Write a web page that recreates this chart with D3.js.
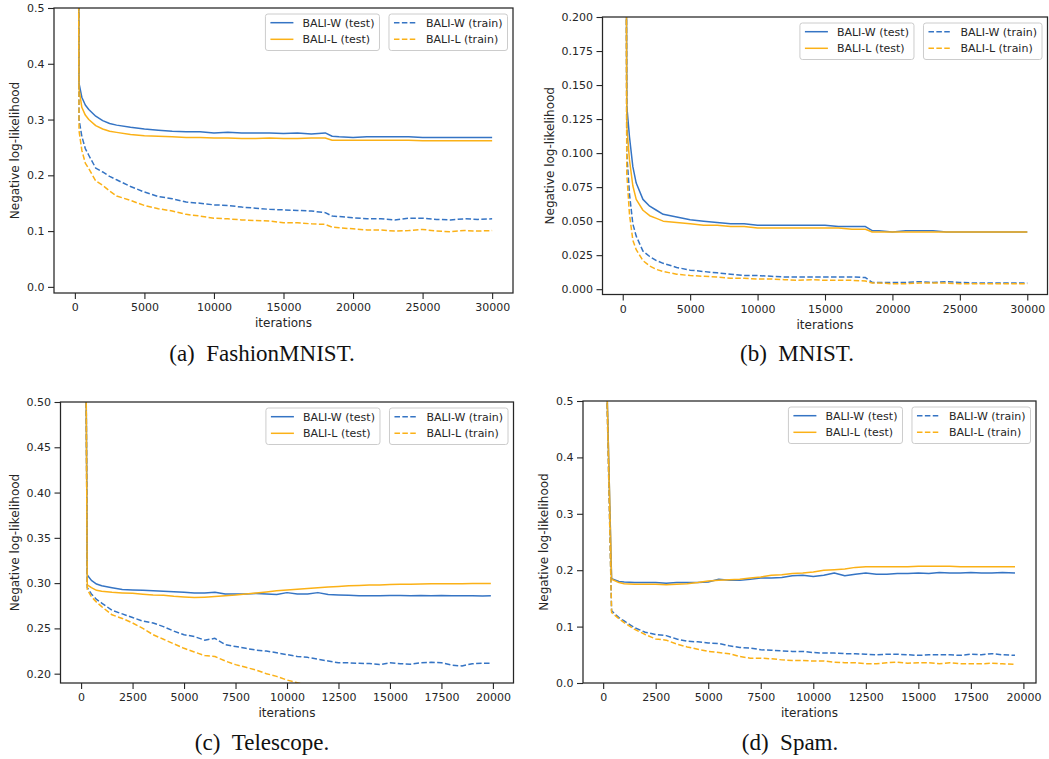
<!DOCTYPE html>
<html>
<head>
<meta charset="utf-8">
<script src="https://cdn.jsdelivr.net/npm/d3@7"></script>
<style>
  body { margin: 0; background: #fff; }
  svg { display: block; }
</style>
</head>
<body>
<div id="chart"></div>
<script>
// --- data ---
const seriesNames = ["BALI-W (test)", "BALI-L (test)", "BALI-W (train)", "BALI-L (train)"];

// (a) FashionMNIST
const fashionIters = [200, 300, 500, 750, 1000, 1500, 2000, 2500, 3000,
  4000, 5000, 6000, 7000, 8000, 9000, 10000, 11000, 12000, 13000, 14000, 15000, 16000, 17000, 18000,
  18500, 19000,
  20000, 21000, 22000, 23000, 24000, 25000, 26000, 27000, 28000, 29000, 30000];
const fashionWTest = [1.20, 0.365, 0.340, 0.326, 0.318, 0.306, 0.298, 0.293, 0.290,
  0.286, 0.283, 0.281, 0.279, 0.278, 0.278, 0.276, 0.277, 0.276, 0.276, 0.276, 0.275, 0.276, 0.274, 0.276,
  0.270, 0.269,
  0.268, 0.269, 0.269, 0.269, 0.269, 0.268, 0.268, 0.268, 0.268, 0.268, 0.268];
const fashionLTest = [1.20, 0.355, 0.322, 0.308, 0.300, 0.289, 0.283, 0.279, 0.277,
  0.273, 0.271, 0.270, 0.269, 0.268, 0.268, 0.267, 0.267, 0.266, 0.266, 0.267, 0.266, 0.266, 0.267, 0.267,
  0.263, 0.263,
  0.263, 0.263, 0.263, 0.263, 0.263, 0.262, 0.262, 0.262, 0.262, 0.262, 0.262];
const fashionWTrain = [1.20, 0.300, 0.270, 0.248, 0.236, 0.213, 0.206, 0.198, 0.192,
  0.180, 0.170, 0.162, 0.158, 0.152, 0.150, 0.147, 0.146, 0.143, 0.141, 0.139, 0.138, 0.137, 0.136, 0.133,
  0.127, 0.126,
  0.124, 0.122, 0.122, 0.120, 0.123, 0.123, 0.121, 0.120, 0.122, 0.121, 0.122];
const fashionLTrain = [1.20, 0.280, 0.245, 0.222, 0.212, 0.190, 0.182, 0.172, 0.163,
  0.155, 0.146, 0.140, 0.136, 0.130, 0.127, 0.123, 0.122, 0.120, 0.119, 0.118, 0.115, 0.115, 0.113, 0.112,
  0.107, 0.106,
  0.104, 0.102, 0.102, 0.100, 0.101, 0.103, 0.100, 0.099, 0.101, 0.100, 0.101];

// (b) MNIST
const mnistIters = [200, 300, 500, 750, 1000, 1500, 2000, 2500, 3000,
  4000, 5000, 6000, 7000, 8000, 9000, 10000, 11000, 12000, 13000, 14000, 15000, 16000, 17000, 18000,
  18500, 19000,
  20000, 21000, 22000, 23000, 24000, 25000, 26000, 27000, 28000, 29000, 30000];
const mnistWTest = [0.50, 0.135, 0.112, 0.090, 0.078, 0.066, 0.061, 0.058, 0.055,
  0.053, 0.051, 0.050, 0.049, 0.048, 0.048, 0.047, 0.047, 0.047, 0.047, 0.047, 0.047, 0.046, 0.046, 0.046,
  0.043, 0.043,
  0.042, 0.043, 0.043, 0.043, 0.042, 0.042, 0.042, 0.042, 0.042, 0.042, 0.042];
const mnistLTest = [0.50, 0.120, 0.095, 0.076, 0.066, 0.058, 0.054, 0.052, 0.050,
  0.049, 0.048, 0.047, 0.047, 0.046, 0.046, 0.045, 0.045, 0.045, 0.045, 0.045, 0.045, 0.045, 0.044, 0.044,
  0.042, 0.042,
  0.042, 0.042, 0.042, 0.042, 0.042, 0.042, 0.042, 0.042, 0.042, 0.042, 0.042];
const mnistWTrain = [0.50, 0.100, 0.070, 0.048, 0.039, 0.028, 0.024, 0.021, 0.019,
  0.016, 0.014, 0.013, 0.012, 0.011, 0.010, 0.010, 0.0095, 0.009, 0.009, 0.009, 0.009, 0.009, 0.009, 0.0085,
  0.005, 0.005,
  0.005, 0.005, 0.0055, 0.005, 0.0055, 0.005, 0.0045, 0.0045, 0.0045, 0.0045, 0.0045];
const mnistLTrain = [0.50, 0.085, 0.055, 0.036, 0.029, 0.021, 0.017, 0.0145, 0.013,
  0.011, 0.010, 0.0095, 0.009, 0.008, 0.008, 0.0075, 0.0075, 0.007, 0.0065, 0.007, 0.0065, 0.0065, 0.0065, 0.006,
  0.0045, 0.0045,
  0.004, 0.004, 0.0045, 0.0045, 0.0045, 0.004, 0.004, 0.004, 0.004, 0.004, 0.004];

// (c) Telescope
const telescopeIters = [200, 300, 500, 750, 1000,
  1500, 2000, 2500, 3000, 3500, 4000, 4500, 5000, 5500, 6000, 6500, 7000, 7500, 8000, 8500, 9000, 9500, 10000,
  10500, 11000, 11500, 12000, 12500, 13000, 13500, 14000, 14500, 15000, 15500, 16000, 16500, 17000, 17500, 18000,
  18500, 19000, 19500, 19900];
const telescopeWTest = [0.70, 0.309, 0.303, 0.299, 0.297,
  0.295, 0.293, 0.2925, 0.292, 0.2915, 0.291, 0.2905, 0.290, 0.289, 0.289, 0.290, 0.288, 0.288, 0.288, 0.2885, 0.288, 0.2875, 0.2895,
  0.288, 0.288, 0.2895, 0.2875, 0.287, 0.2865, 0.286, 0.286, 0.286, 0.2862, 0.2862, 0.286, 0.2862, 0.286, 0.2862, 0.286,
  0.286, 0.286, 0.2858, 0.286];
const telescopeLTest = [0.70, 0.298, 0.295, 0.292, 0.291,
  0.2898, 0.2892, 0.2888, 0.2878, 0.287, 0.2865, 0.2855, 0.2848, 0.284, 0.2845, 0.2852, 0.286, 0.2868, 0.288, 0.289, 0.2902, 0.2915, 0.2925,
  0.2932, 0.294, 0.295, 0.2958, 0.2963, 0.297, 0.2975, 0.2978, 0.298, 0.2984, 0.2987, 0.2988, 0.299, 0.2992, 0.2992, 0.2993,
  0.2994, 0.2995, 0.2995, 0.2995];
const telescopeWTrain = [0.70, 0.295, 0.288, 0.282, 0.278,
  0.270, 0.266, 0.262, 0.258, 0.256, 0.252, 0.247, 0.243, 0.241, 0.237, 0.239, 0.232, 0.230, 0.228, 0.226, 0.225, 0.223, 0.221,
  0.219, 0.218, 0.216, 0.214, 0.212, 0.212, 0.2115, 0.2112, 0.210, 0.212, 0.211, 0.2105, 0.212, 0.2125, 0.212, 0.2095,
  0.2085, 0.211, 0.2115, 0.2115];
const telescopeLTrain = [0.70, 0.293, 0.285, 0.279, 0.274,
  0.265, 0.261, 0.256, 0.250, 0.243, 0.238, 0.233, 0.228, 0.224, 0.220, 0.219, 0.214, 0.210, 0.207, 0.204, 0.200, 0.197, 0.193,
  0.190, 0.187, 0.185, 0.183, 0.181, 0.179, 0.177, 0.176, 0.174, 0.173, 0.172, 0.171, 0.170, 0.169, 0.168, 0.167,
  0.166, 0.166, 0.165, 0.165];

// (d) Spam
const spamIters = [100, 400, 750,
  1000, 1500, 2000, 2500, 3000, 3500, 4000, 4500, 5000, 5500,
  6000, 6500, 7000, 7500, 8000, 8500, 9000, 9500, 10000, 10500,
  11000, 11500, 12000, 12500, 13000, 13500, 14000, 14500, 15000, 15500,
  16000, 16500, 17000, 17500, 18000, 18500, 19000, 19600];
const spamWTest = [0.65, 0.185, 0.180,
  0.179, 0.178, 0.178, 0.178, 0.177, 0.178, 0.178, 0.178, 0.179, 0.184,
  0.182, 0.182, 0.184, 0.186, 0.186, 0.187, 0.190, 0.191, 0.189, 0.191,
  0.195, 0.190, 0.193, 0.195, 0.193, 0.193, 0.194, 0.194, 0.195, 0.194,
  0.196, 0.195, 0.195, 0.196, 0.195, 0.195, 0.196, 0.195];
const spamLTest = [0.65, 0.184, 0.178,
  0.176, 0.175, 0.175, 0.175, 0.174, 0.175, 0.176, 0.178, 0.181, 0.182,
  0.183, 0.184, 0.186, 0.188, 0.191, 0.192, 0.194, 0.195, 0.197, 0.200,
  0.201, 0.202, 0.205, 0.206, 0.206, 0.206, 0.206, 0.206, 0.207, 0.207,
  0.207, 0.207, 0.206, 0.206, 0.206, 0.206, 0.206, 0.206];
const spamWTrain = [0.65, 0.128, 0.116,
  0.110, 0.098, 0.090, 0.086, 0.084, 0.078, 0.074, 0.073, 0.071, 0.070,
  0.066, 0.063, 0.062, 0.059, 0.058, 0.057, 0.056, 0.056, 0.054, 0.053,
  0.053, 0.052, 0.052, 0.051, 0.050, 0.051, 0.051, 0.050, 0.049, 0.050,
  0.050, 0.050, 0.049, 0.051, 0.050, 0.052, 0.050, 0.049];
const spamLTrain = [0.65, 0.125, 0.114,
  0.107, 0.095, 0.086, 0.078, 0.076, 0.069, 0.064, 0.060, 0.056, 0.054,
  0.052, 0.047, 0.044, 0.044, 0.043, 0.041, 0.040, 0.040, 0.039, 0.039,
  0.037, 0.036, 0.036, 0.034, 0.034, 0.036, 0.037, 0.035, 0.036, 0.036,
  0.034, 0.036, 0.034, 0.034, 0.034, 0.035, 0.034, 0.033];

// tick values
const xTicks30k = [0, 5000, 10000, 15000, 20000, 25000, 30000];
const xTicks20k = [0, 2500, 5000, 7500, 10000, 12500, 15000, 17500, 20000];
const yTicksFashion = [0.0, 0.1, 0.2, 0.3, 0.4, 0.5];
const yTicksMnist = [0.000, 0.025, 0.050, 0.075, 0.100, 0.125, 0.150, 0.175, 0.200];
const yTicksTelescope = [0.20, 0.25, 0.30, 0.35, 0.40, 0.45, 0.50];
const yTicksSpam = [0.0, 0.1, 0.2, 0.3, 0.4, 0.5];

// --- style ---
const width = 1049, height = 759;
const colors = { blue: "#3574c4", orange: "#fbb117", ink: "#262626", legendEdge: "#cccccc" };
const sans = "'DejaVu Sans', sans-serif";
const serif = "'Liberation Serif', 'Times New Roman', serif";
const seriesStyle = [
  { color: colors.blue,   dash: null },
  { color: colors.orange, dash: null },
  { color: colors.blue,   dash: "5.5,2.4" },
  { color: colors.orange, dash: "5.5,2.4" }
];

// --- panel layout ---
const panels = [
  { tag: "(a)", name: "FashionMNIST.", iters: fashionIters,
    series: [fashionWTest, fashionLTest, fashionWTrain, fashionLTrain],
    box: { left: 54, right: 513, top: 8, bottom: 293 },
    xDomain: [-1500, 31500], yDomain: [-0.011, 0.5],
    xTicks: xTicks30k, yTicks: yTicksFashion, yFmt: ".1f", cap: [262, 361] },
  { tag: "(b)", name: "MNIST.", iters: mnistIters,
    series: [mnistWTest, mnistLTest, mnistWTrain, mnistLTrain],
    box: { left: 602.5, right: 1047.5, top: 17, bottom: 294.5 },
    xDomain: [-1500, 31500], yDomain: [-0.0039, 0.2],
    xTicks: xTicks30k, yTicks: yTicksMnist, yFmt: ".3f", cap: [797, 361] },
  { tag: "(c)", name: "Telescope.", iters: telescopeIters,
    series: [telescopeWTest, telescopeLTest, telescopeWTrain, telescopeLTrain],
    box: { left: 60.5, right: 513.5, top: 402, bottom: 683 },
    xDomain: [-1000, 21000], yDomain: [0.1897, 0.5],
    xTicks: xTicks20k, yTicks: yTicksTelescope, yFmt: ".2f", cap: [262, 750] },
  { tag: "(d)", name: "Spam.", iters: spamIters,
    series: [spamWTest, spamLTest, spamWTrain, spamLTrain],
    box: { left: 583, right: 1036, top: 401, bottom: 683 },
    xDomain: [-960, 20600], yDomain: [0, 0.5],
    xTicks: xTicks20k, yTicks: yTicksSpam, yFmt: ".1f", cap: [790, 750] }
];

const svg = d3.select("#chart").append("svg")
  .attr("width", width).attr("height", height)
  .attr("viewBox", `0 0 ${width} ${height}`);

function styleAxis(g) {
  g.select(".domain").remove();
  g.selectAll(".tick line").attr("stroke", colors.ink).attr("stroke-width", 1.1);
  g.selectAll(".tick text")
    .attr("fill", colors.ink)
    .style("font-family", sans)
    .style("font-size", "11px");
}

// legend: two framed boxes side by side, right-aligned in the axes
function drawLegend(p) {
  const { right, top } = p.box;
  const groups = [[0, 1], [2, 3]];
  const pad = 5, lineLen = 23, gap = 9, rowH = 16.6, boxH = 36.5;
  const lg = svg.append("g");
  let xRight = right - 5.5;
  // right box first, then the left one
  for (let gi = groups.length - 1; gi >= 0; gi--) {
    const g = lg.append("g");
    const frame = g.append("rect");
    let maxW = 0;
    groups[gi].forEach((si, r) => {
      const t = g.append("text")
        .attr("y", top + 6 + 8.7 + r * rowH)
        .attr("dy", "0.35em")
        .style("font-family", sans).style("font-size", "11px")
        .attr("fill", colors.ink)
        .text(seriesNames[si]);
      maxW = Math.max(maxW, t.node().getComputedTextLength());
    });
    const boxW = pad + lineLen + gap + maxW + pad;
    const x0 = xRight - boxW;
    frame.attr("x", x0).attr("y", top + 6).attr("width", boxW).attr("height", boxH)
      .attr("rx", 2.5).attr("fill", "#fff").attr("fill-opacity", 0.8)
      .attr("stroke", colors.legendEdge).attr("stroke-width", 1);
    g.selectAll("text").attr("x", x0 + pad + lineLen + gap);
    groups[gi].forEach((si, r) => {
      const yy = top + 6 + 8.7 + r * rowH;
      g.append("line")
        .attr("x1", x0 + pad).attr("x2", x0 + pad + lineLen)
        .attr("y1", yy).attr("y2", yy)
        .attr("stroke", seriesStyle[si].color).attr("stroke-width", 1.5)
        .attr("stroke-dasharray", seriesStyle[si].dash);
    });
    xRight = x0 - 9.5;
  }
}

panels.forEach((p, i) => {
  const { left, right, top, bottom } = p.box;
  const x = d3.scaleLinear().domain(p.xDomain).range([left, right]);
  const y = d3.scaleLinear().domain(p.yDomain).range([bottom, top]);

  const clipId = `clip-${i}`;
  svg.append("clipPath").attr("id", clipId)
    .append("rect").attr("x", left).attr("y", top)
    .attr("width", right - left).attr("height", bottom - top);

  // lines
  const line = d3.line().x(d => x(d[0])).y(d => y(d[1]));
  const plot = svg.append("g").attr("clip-path", `url(#${clipId})`);
  p.series.forEach((vals, si) => {
    const pts = p.iters.map((it, k) => [it, vals[k]]);
    plot.append("path")
      .datum(pts)
      .attr("d", line)
      .attr("fill", "none")
      .attr("stroke", seriesStyle[si].color)
      .attr("stroke-width", 1.5)
      .attr("stroke-linejoin", "round")
      .attr("stroke-dasharray", seriesStyle[si].dash);
  });

  // axes
  svg.append("g")
    .attr("transform", `translate(0,${bottom})`)
    .call(d3.axisBottom(x).tickValues(p.xTicks).tickFormat(d3.format("d")).tickSize(6).tickPadding(4.5))
    .call(styleAxis);
  const yAxis = svg.append("g")
    .attr("transform", `translate(${left},0)`)
    .call(d3.axisLeft(y).tickValues(p.yTicks).tickFormat(d3.format(p.yFmt)).tickSize(6).tickPadding(3.5))
    .call(styleAxis);

  // frame
  svg.append("rect")
    .attr("x", left).attr("y", top)
    .attr("width", right - left).attr("height", bottom - top)
    .attr("fill", "none").attr("stroke", colors.ink).attr("stroke-width", 1.25);

  // axis labels
  svg.append("text")
    .attr("x", (left + right) / 2).attr("y", bottom + 34)
    .attr("text-anchor", "middle")
    .style("font-family", sans).style("font-size", "12px")
    .attr("fill", colors.ink)
    .text("iterations");

  // getBBox is in the axis group's own coordinates, so add the translate back
  const yb = yAxis.node().getBBox();
  svg.append("text")
    .attr("transform", `translate(${left + yb.x - 8},${(top + bottom) / 2}) rotate(-90)`)
    .attr("text-anchor", "middle")
    .style("font-family", sans).style("font-size", "12px")
    .attr("fill", colors.ink)
    .text("Negative log-likelihood");

  drawLegend(p);

  // caption below the panel
  svg.append("text")
    .attr("x", p.cap[0]).attr("y", p.cap[1])
    .attr("text-anchor", "middle")
    .style("font-family", serif).style("font-size", "23px")
    .attr("fill", "#111")
    .text(`${p.tag}\u2002${p.name}`);
});
</script>
</body>
</html>
